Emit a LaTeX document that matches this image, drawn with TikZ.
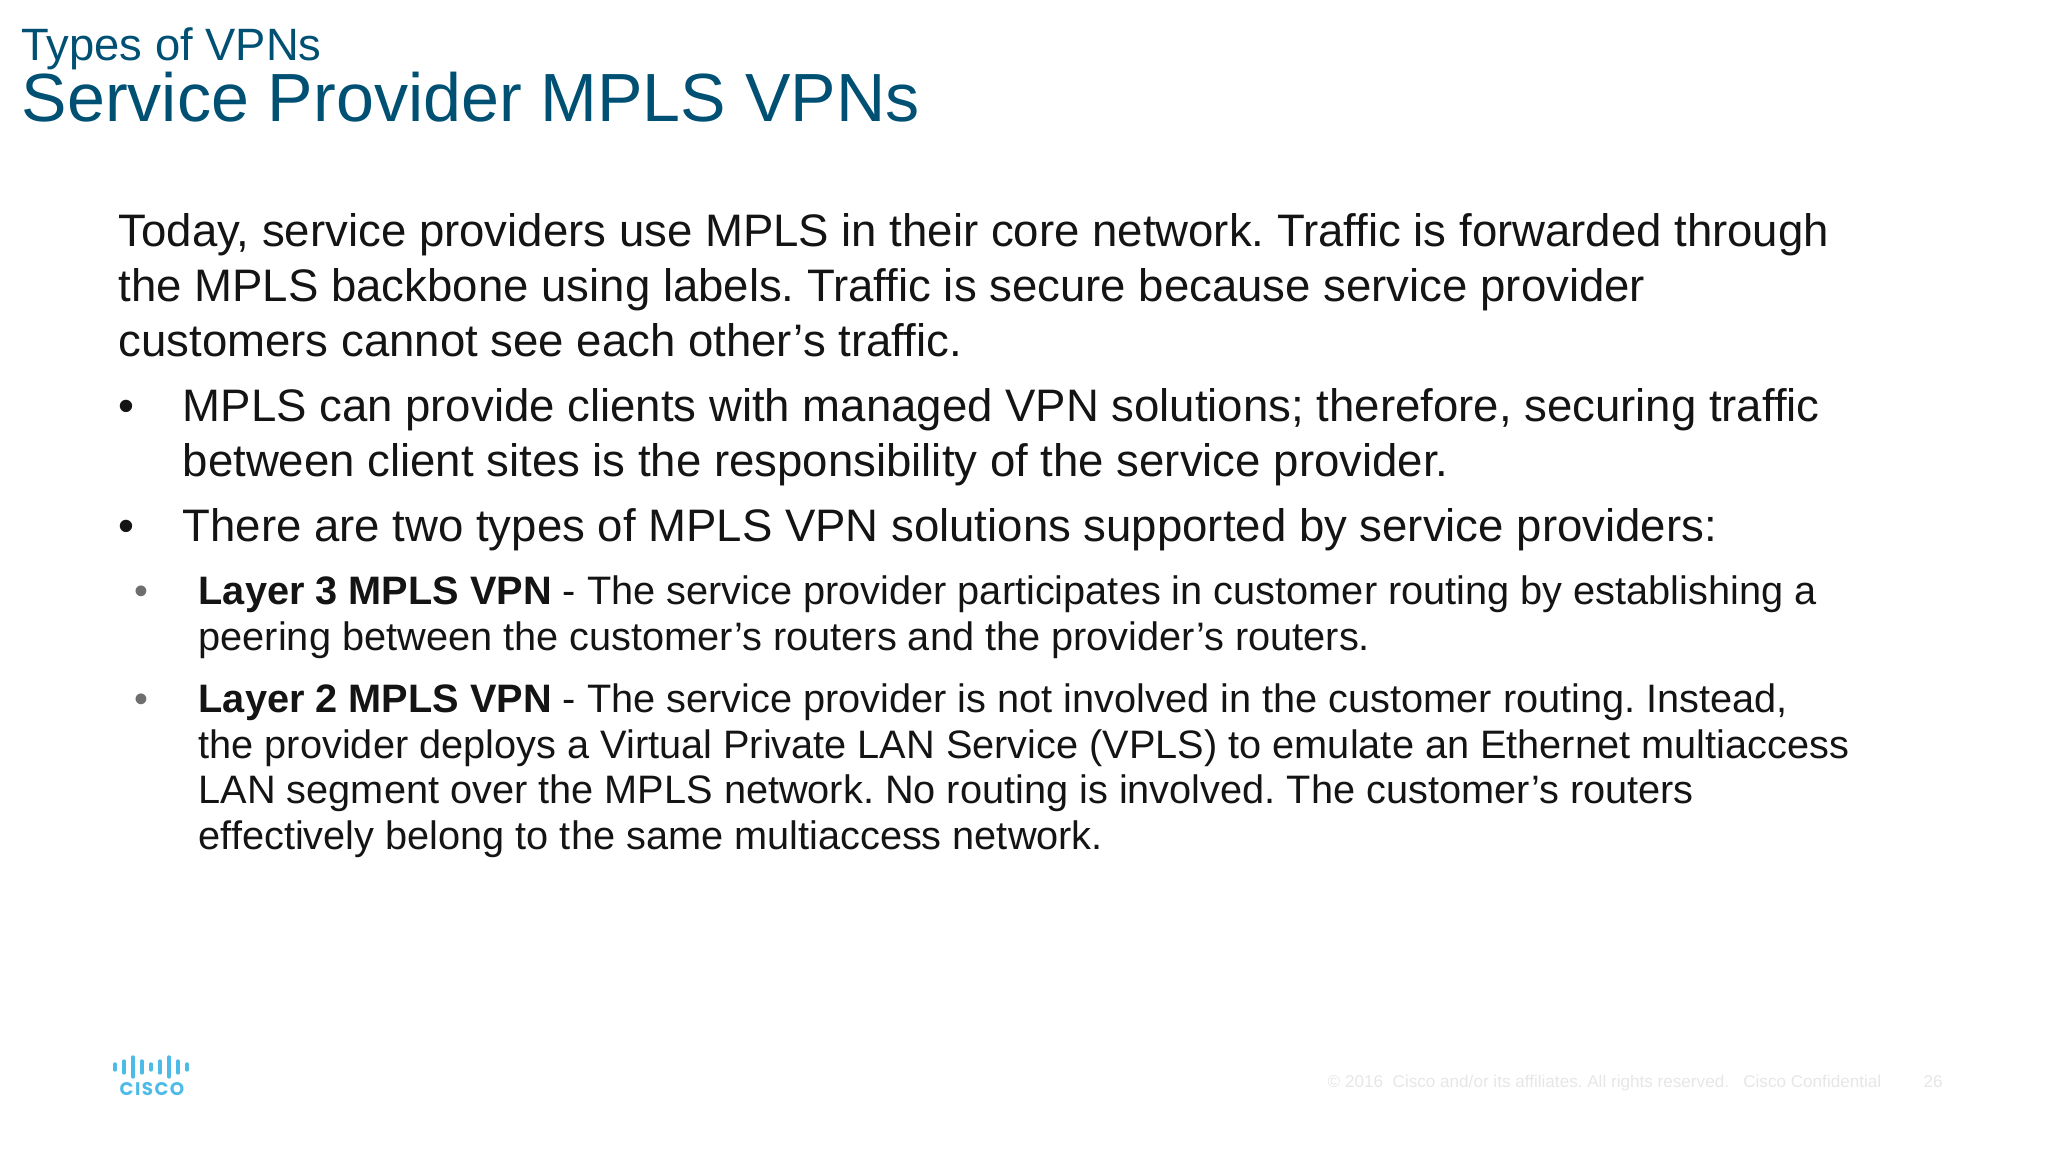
\documentclass[tikz,border=0pt]{standalone}
\usepackage{fontspec}
\setmainfont{Liberation Sans}
\newfontfamily\logofont[LetterSpace=8]{Poppins Bold}
\usetikzlibrary{positioning}
\definecolor{titleblue}{HTML}{005073}
\definecolor{bodyblack}{HTML}{141414}
\definecolor{ciscoblue}{HTML}{4DBBE8}
\definecolor{footgrey}{HTML}{E6E6E6}
\definecolor{subgrey}{HTML}{6E6E6E}
\tikzset{
  line/.style = {anchor=base west, inner sep=0pt, text=bodyblack},
  bigline/.style = {line, font=\fontsize{12.96}{15}\selectfont},
  smallline/.style = {line, font=\fontsize{11.3}{14}\selectfont},
  foot/.style = {anchor=base west, inner sep=0pt, text=footgrey, font=\fontsize{4.87}{6}\selectfont},
  bar/.style = {line width=.95pt, color=ciscoblue, line cap=round}
}
\frenchspacing
\begin{document}
\begin{tikzpicture}
\useasboundingbox (0,0) rectangle (20.48,11.52);
% title
\node[line, text=titleblue, font=\fontsize{12.9}{15}\selectfont] (sup) at (.21,10.91) {Types of VPNs};
\node[line, text=titleblue, font=\fontsize{19.4}{20}\selectfont] (title) at (.21,10.30) {Service Provider MPLS VPNs};
% intro
\node[bigline] (intro1) at (1.18,9.05) {Today, service providers use MPLS in their core network. Traffic is forwarded through};
\node[bigline] (intro2) at (1.18,8.50) {the MPLS backbone using labels. Traffic is secure because service provider};
\node[bigline] (intro3) at (1.18,7.95) {customers cannot see each other’s traffic.};
% first level
\node[bigline] (dot1) at (1.18,7.30) {•};
\node[bigline] (mpls1) at (1.82,7.30) {MPLS can provide clients with managed VPN solutions; therefore, securing traffic};
\node[bigline] (mpls2) at (1.82,6.75) {between client sites is the responsibility of the service provider.};
\node[bigline] (dot2) at (1.18,6.10) {•};
\node[bigline] (two) at (1.82,6.10) {There are two types of MPLS VPN solutions supported by service providers:};
% second level
\node[smallline, text=subgrey] (dot3) at (1.34,5.47) {•};
\node[smallline] (lthree1) at (1.98,5.47) {\textbf{Layer 3 MPLS VPN} - The service provider participates in customer routing by establishing a};
\node[smallline] (lthree2) at (1.98,5.01) {peering between the customer’s routers and the provider’s routers.};
\node[smallline, text=subgrey] (dot4) at (1.34,4.39) {•};
\node[smallline] (ltwo1) at (1.98,4.39) {\textbf{Layer 2 MPLS VPN} - The service provider is not involved in the customer routing. Instead,};
\node[smallline] (ltwo2) at (1.98,3.93) {the provider deploys a Virtual Private LAN Service (VPLS) to emulate an Ethernet multiaccess};
\node[smallline] (ltwo3) at (1.98,3.48) {LAN segment over the MPLS network. No routing is involved. The customer’s routers};
\node[smallline] (ltwo4) at (1.98,3.02) {effectively belong to the same multiaccess network.};
% logo
\foreach \x/\h in {1.15/.03,1.24/.06,1.33/.10,1.42/.06,1.51/.03,1.60/.06,1.69/.10,1.78/.06,1.87/.03}
  \draw[bar] (\x,.85-\h) -- (\x,.85+\h);
\node[anchor=base, inner sep=0pt, text=ciscoblue, font=\fontsize{5.2}{6}\logofont] (logo) at (1.52,.56) {CISCO};
% footer
\node[foot] (copy) at (13.27,.645) {© 2016\ \ Cisco and/or its affiliates. All rights reserved.\ \ \ Cisco Confidential};
\node[foot] (page) at (19.23,.645) {26};
\end{tikzpicture}
\end{document}
